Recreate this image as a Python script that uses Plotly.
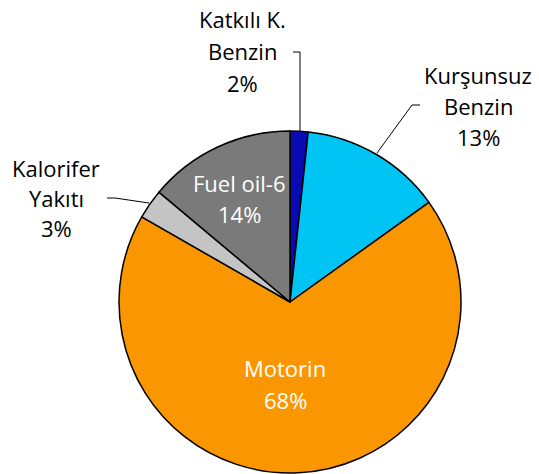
import plotly.graph_objects as go

labels = ["Katkılı K. Benzin", "Kurşunsuz Benzin", "Motorin", "Kalorifer Yakıtı", "Fuel oil-6"]
label_lines = [["Katkılı K.", "Benzin"], ["Kurşunsuz", "Benzin"], ["Motorin"], ["Kalorifer", "Yakıtı"], ["Fuel oil-6"]]
values = [1.7, 13.4, 68.2, 2.8, 13.9]
colors = ["#0A0AB4", "#00C4F4", "#FA9600", "#C4C4C4", "#7A7A7A"]

W, H = 539, 474
CX, CY, R = 290, 302, 171

# label placement (pixel centre x, first-line y, line step), text colour
label_pos = [
    (242, 19, 32, "#000000"),
    (478, 75, 31, "#000000"),
    (285, 368, 31.5, "#FFFFFF"),
    (56, 168, 30, "#000000"),
    (239, 183, 31.5, "#FFFFFF"),
]

FONT = "Open Sans, Noto Sans, DejaVu Sans, sans-serif"

def px(x):
    return x / W

def py(y):
    return 1 - y / H

fig = go.Figure(go.Pie(
    labels=labels,
    values=values,
    sort=False,
    direction="clockwise",
    rotation=0,
    marker=dict(colors=colors, line=dict(color="#000000", width=1.5)),
    textinfo="none",
    hoverinfo="label+percent",
    domain=dict(x=[px(CX - R), px(CX + R)], y=[max(0, py(CY + R)), py(CY - R)]),
    showlegend=False,
))

total = sum(values)
annotations = []
for lines, v, (x, y0, step, col) in zip(label_lines, values, label_pos):
    texts = lines + [f"{round(v / total * 100)}%"]
    for i, t in enumerate(texts):
        annotations.append(dict(
            x=px(x), y=py(y0 + i * step), xref="paper", yref="paper",
            text=t, showarrow=False, xanchor="center", yanchor="middle",
            font=dict(family=FONT, size=22, color=col),
        ))

# leader lines
leaders = [
    [(293, 52), (300, 52), (300, 131)],
    [(420, 105), (412, 105), (377, 153)],
    [(107, 198), (115, 198), (149, 203)],
]
shapes = []
for pts in leaders:
    path = "M " + " L ".join(f"{px(a)},{py(b)}" for a, b in pts)
    shapes.append(dict(type="path", xref="paper", yref="paper", path=path,
                       line=dict(color="#000000", width=1)))

fig.update_layout(
    width=W, height=H,
    margin=dict(l=0, r=0, t=0, b=0),
    paper_bgcolor="#FFFFFF",
    plot_bgcolor="#FFFFFF",
    annotations=annotations,
    shapes=shapes,
)

fig.write_html(
    "out.html",
    config={"displayModeBar": False},
    post_script="document.body.style.margin='0';document.body.style.overflow='hidden';",
)
